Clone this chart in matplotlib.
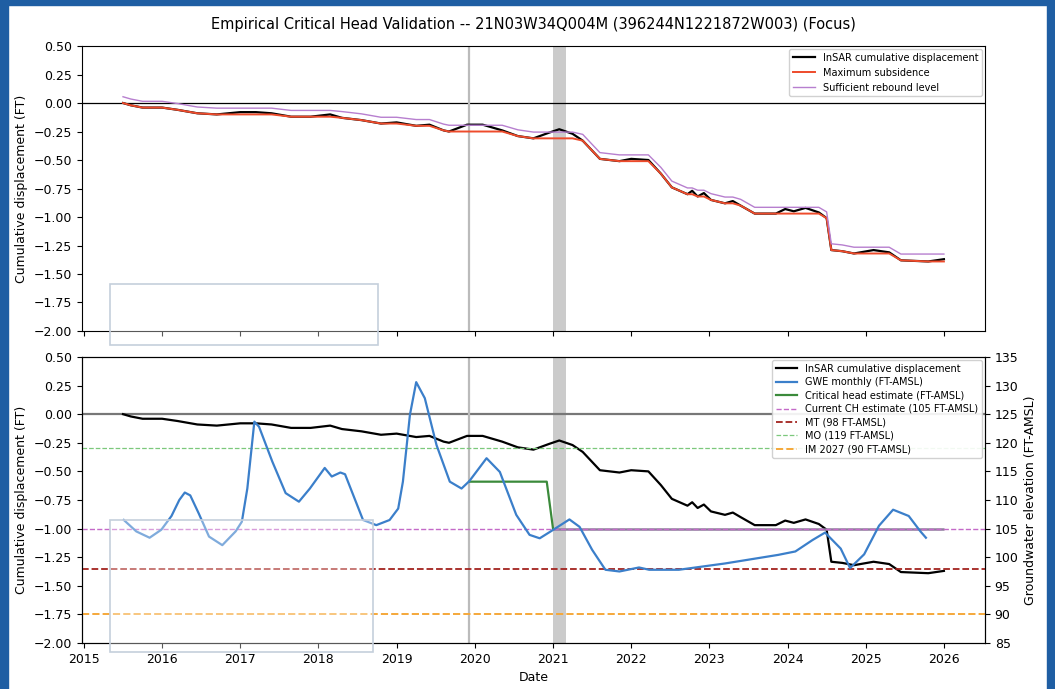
import matplotlib
matplotlib.use("Agg")
import matplotlib.pyplot as plt
import numpy as np
from matplotlib.patches import Rectangle

#%% data (decimal years)
t_insar = [2015.50, 2015.60, 2015.75, 2016.00, 2016.20, 2016.45, 2016.70, 2017.00, 2017.20,
           2017.40, 2017.65, 2017.90, 2018.15, 2018.30, 2018.55, 2018.80, 2019.00, 2019.25,
           2019.42, 2019.60, 2019.67, 2019.90, 2020.10, 2020.35, 2020.55, 2020.75, 2020.95,
           2021.08, 2021.25, 2021.38, 2021.60, 2021.85, 2022.00, 2022.22, 2022.38, 2022.52,
           2022.72, 2022.78, 2022.85, 2022.93, 2023.02, 2023.20, 2023.30, 2023.40, 2023.58,
           2023.85, 2023.97, 2024.08, 2024.23, 2024.40, 2024.50, 2024.56, 2024.70, 2024.85,
           2025.10, 2025.30, 2025.45, 2025.80, 2026.00]
insar = [0.00, -0.02, -0.04, -0.04, -0.06, -0.09, -0.10, -0.08, -0.08,
         -0.09, -0.12, -0.12, -0.10, -0.13, -0.15, -0.18, -0.17, -0.20,
         -0.19, -0.24, -0.25, -0.19, -0.19, -0.24, -0.29, -0.31, -0.26,
         -0.23, -0.27, -0.33, -0.49, -0.51, -0.49, -0.50, -0.62, -0.74,
         -0.80, -0.77, -0.82, -0.79, -0.85, -0.88, -0.86, -0.90, -0.97,
         -0.97, -0.93, -0.95, -0.92, -0.96, -1.01, -1.29, -1.30, -1.32,
         -1.29, -1.31, -1.38, -1.39, -1.37]
max_subs = [0.00, -0.02, -0.04, -0.04, -0.06, -0.09, -0.10, -0.10, -0.10,
            -0.10, -0.12, -0.12, -0.12, -0.13, -0.15, -0.18, -0.18, -0.20,
            -0.20, -0.24, -0.25, -0.25, -0.25, -0.25, -0.29, -0.31, -0.31,
            -0.31, -0.31, -0.33, -0.49, -0.51, -0.51, -0.51, -0.62, -0.74,
            -0.80, -0.80, -0.82, -0.82, -0.85, -0.88, -0.88, -0.90, -0.97,
            -0.97, -0.97, -0.97, -0.97, -0.97, -1.01, -1.29, -1.30, -1.32,
            -1.32, -1.32, -1.38, -1.39, -1.39]
rebound = [0.055, 0.035, 0.015, 0.015, -0.005, -0.035, -0.045, -0.045, -0.045,
           -0.045, -0.065, -0.065, -0.065, -0.075, -0.095, -0.125, -0.125, -0.145,
           -0.145, -0.185, -0.195, -0.195, -0.195, -0.195, -0.235, -0.255, -0.255,
           -0.255, -0.255, -0.275, -0.435, -0.455, -0.455, -0.455, -0.565, -0.685,
           -0.745, -0.745, -0.765, -0.765, -0.795, -0.825, -0.825, -0.845, -0.915,
           -0.915, -0.915, -0.915, -0.915, -0.915, -0.955, -1.235, -1.245, -1.265,
           -1.265, -1.265, -1.325, -1.325, -1.325]

t_gwe = [2015.51, 2015.67, 2015.84, 2015.99, 2016.12, 2016.22, 2016.29, 2016.36, 2016.47,
         2016.60, 2016.77, 2016.94, 2017.02, 2017.09, 2017.18, 2017.24, 2017.41, 2017.58,
         2017.75, 2017.89, 2018.08, 2018.17, 2018.28, 2018.34, 2018.57, 2018.74, 2018.91,
         2019.02, 2019.08, 2019.17, 2019.25, 2019.36, 2019.51, 2019.68, 2019.83, 2019.93,
         2020.15, 2020.32, 2020.53, 2020.70, 2020.83, 2020.97, 2021.21, 2021.34, 2021.50,
         2021.67, 2021.85, 2022.10, 2022.23, 2022.61, 2023.20, 2023.88, 2024.10, 2024.32,
         2024.48, 2024.68, 2024.80, 2024.98, 2025.17, 2025.35, 2025.55, 2025.70, 2025.77]
gwe = [106.5, 104.5, 103.4, 104.8, 107.2, 110.0, 111.3, 110.8, 107.6,
       103.6, 102.1, 104.5, 106.2, 112.0, 123.7, 122.8, 116.7, 111.2,
       109.7, 112.0, 115.6, 114.1, 114.8, 114.5, 106.5, 105.6, 106.5,
       108.5, 113.2, 124.9, 130.6, 127.8, 119.6, 113.2, 112.0, 113.3,
       117.3, 114.9, 107.4, 103.9, 103.3, 104.5, 106.6, 105.3, 101.3,
       97.8, 97.5, 98.2, 97.8, 97.8, 98.9, 100.4, 101.0, 103.0,
       104.3, 101.5, 98.1, 100.5, 105.5, 108.3, 107.2, 104.5, 103.4]

t_ch = [2019.93, 2020.92, 2021.00]
ch = [113.2, 113.2, 105.0]
t_ch_fin = 2026.0

ch_current = 105
mt = 98
mo = 119
im_2027 = 90

cambio_ch = 2019.92          # vertical line
ventana = (2021.0, 2021.17)  # shaded window

titulo = 'Empirical Critical Head Validation -- 21N03W34Q004M (396244N1221872W003) (Focus)'

#%%
c_black = 'black'
c_red = '#ee4b2b'
c_purple = '#b77fcf'
c_blue = '#3b7fca'
c_green = '#3b8a3b'

fig = plt.figure(figsize=(10.55, 6.89), dpi=100)
ax1 = fig.add_axes([0.0777, 0.5196, 0.8559, 0.4136])
ax2 = fig.add_axes([0.0777, 0.0668, 0.8559, 0.4151], sharex=ax1)
ax3 = ax2.twinx()

# top panel
ax1.axhline(0, color='black', lw=0.9)
ax1.axvline(cambio_ch, color='#bbbbbb', lw=1.6)
ax1.axvspan(*ventana, color='#999999', alpha=0.5, lw=0)
ax1.plot(t_insar, insar, color=c_black, lw=1.6, label='InSAR cumulative displacement')
ax1.plot(t_insar, max_subs, color=c_red, lw=1.4, label='Maximum subsidence')
ax1.plot(t_insar, rebound, color=c_purple, lw=1.0, label='Sufficient rebound level')
ax1.set_ylim(-2.0, 0.5)
ax1.set_yticks(np.arange(-2.0, 0.51, 0.25))
ax1.yaxis.set_major_formatter('{x:.2f}')
ax1.set_ylabel('Cumulative displacement (FT)', fontsize=9)
ax1.legend(loc='upper right', fontsize=7, frameon=True, framealpha=0.9,
           edgecolor='#cccccc', handlelength=2.2, borderaxespad=0.3)
ax1.tick_params(labelbottom=False, labelsize=9)
ax1.set_title(titulo, fontsize=10.5, pad=12)

# bottom panel
ax2.axhline(0, color='#777777', lw=1.6)
ax2.axvline(cambio_ch, color='#bbbbbb', lw=1.6)
ax2.axvspan(*ventana, color='#999999', alpha=0.5, lw=0)
l_insar, = ax2.plot(t_insar, insar, color=c_black, lw=1.6, label='InSAR cumulative displacement')
ax2.set_ylim(-2.0, 0.5)
ax2.set_yticks(np.arange(-2.0, 0.51, 0.25))
ax2.yaxis.set_major_formatter('{x:.2f}')
ax2.set_ylabel('Cumulative displacement (FT)', fontsize=9)
ax2.set_xlabel('Date', fontsize=9)
ax2.tick_params(labelsize=9)

# current critical head carried forward after the last change
ax3.hlines(ch[-1], t_ch[-1], t_ch_fin, color='#8d7f9c', lw=1.8, zorder=1)
l_gwe, = ax3.plot(t_gwe, gwe, color=c_blue, lw=1.6, label='GWE monthly (FT-AMSL)', zorder=3)
l_ch, = ax3.plot(t_ch, ch, color=c_green, lw=1.6, label='Critical head estimate (FT-AMSL)', zorder=2)
l_cur = ax3.axhline(ch_current, color='#c46ac8', ls='--', lw=1.0,
                    label=f'Current CH estimate ({ch_current} FT-AMSL)')
l_mt = ax3.axhline(mt, color='#a3231f', ls='--', lw=1.3, label=f'MT ({mt} FT-AMSL)')
l_mo = ax3.axhline(mo, color='#7cc87c', ls='--', lw=0.9, label=f'MO ({mo} FT-AMSL)')
l_im = ax3.axhline(im_2027, color='#f5a83a', ls='--', lw=1.4, label=f'IM 2027 ({im_2027} FT-AMSL)')
ax3.set_ylim(85, 135)
ax3.set_yticks(range(85, 136, 5))
ax3.set_ylabel('Groundwater elevation (FT-AMSL)', fontsize=9)
ax3.tick_params(labelsize=9)

ax2.set_xlim(2014.975, 2026.525)
ax2.set_xticks(range(2015, 2027))
handles = [l_insar, l_gwe, l_ch, l_cur, l_mt, l_mo, l_im]
ax3.legend(handles, [h.get_label() for h in handles], loc='upper right', fontsize=7,
           framealpha=0.9, edgecolor='#cccccc', handlelength=2.2, borderaxespad=0.3,
           labelspacing=0.35)

# overlay boxes and page frame
for (x0, y0, w, h) in [(110, 284, 268, 61), (110, 520, 263, 132)]:
    fig.add_artist(Rectangle((x0 / 1055, 1 - (y0 + h) / 689), w / 1055, h / 689,
                             transform=fig.transFigure, facecolor='white', alpha=0.35,
                             edgecolor='none', zorder=10))
    fig.add_artist(Rectangle((x0 / 1055, 1 - (y0 + h) / 689), w / 1055, h / 689,
                             transform=fig.transFigure, facecolor='none',
                             edgecolor='#c5cfdc', lw=1.2, zorder=11))

azul = '#1f5ea3'
fig.add_artist(Rectangle((0, 0), 8 / 1055, 1, transform=fig.transFigure, color=azul, zorder=20))
fig.add_artist(Rectangle((1 - 8 / 1055, 0), 8 / 1055, 1, transform=fig.transFigure, color=azul, zorder=20))
fig.add_artist(Rectangle((0, 1 - 5 / 689), 1, 5 / 689, transform=fig.transFigure, color=azul, zorder=20))

fig.savefig('out.png', dpi=100)
